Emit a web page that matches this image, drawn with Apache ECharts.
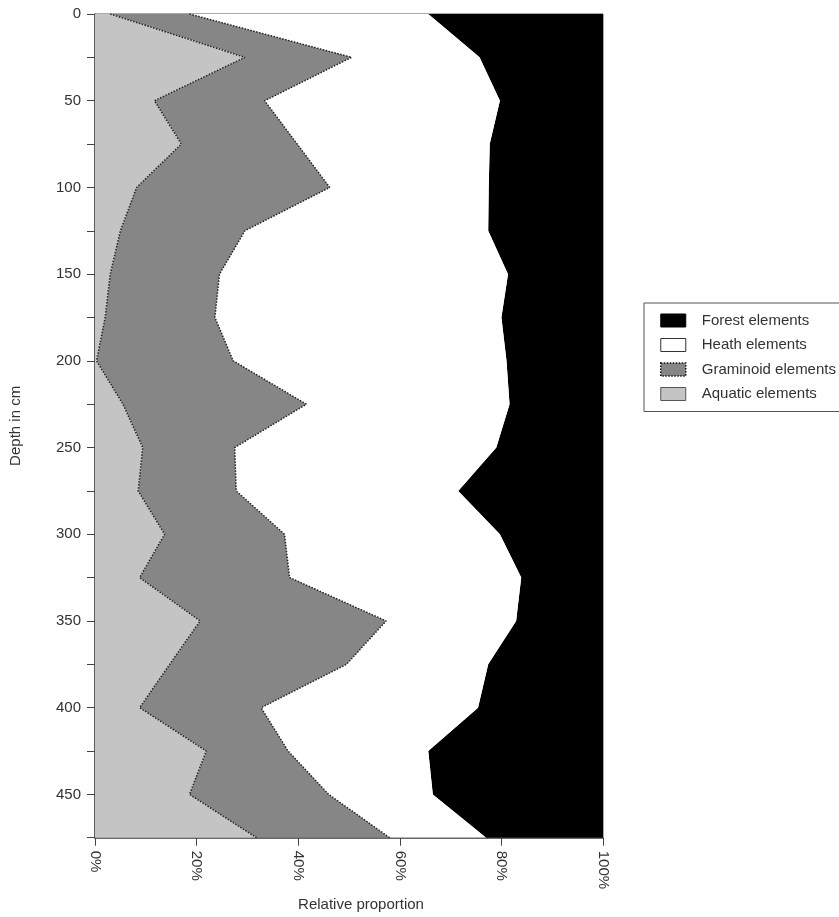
<!DOCTYPE html>
<html>
<head>
<meta charset="utf-8">
<script src="https://cdn.jsdelivr.net/npm/echarts@6/dist/echarts.min.js"></script>
<style>
html,body{margin:0;padding:0;background:#fff;}
#chart{width:839px;height:917px;}
</style>
</head>
<body>
<div id="chart"></div>
<script>
// Depth samples (cm)
const depths = ['0','25','50','75','100','125','150','175','200','225','250','275','300','325','350','375','400','425','450','475'];
// Relative proportions (%) per depth
const aquatic   = [3, 29.5, 11.7, 17, 8.2, 5, 3, 2, 0.3, 5.5, 9.4, 8.5, 13.7, 8.8, 20.7, 14.7, 8.8, 21.9, 18.6, 31.8];
const graminoid = [15.6, 21, 21.7, 22.8, 38, 24.5, 21.5, 21.6, 26.9, 36.1, 18.1, 19.3, 23.6, 29.5, 36.6, 34.8, 23.9, 16.1, 27.4, 26.2];
const heath     = [47, 25.2, 46.3, 37.9, 31.3, 47.9, 56.8, 56.4, 53.8, 40, 51.5, 43.7, 42.4, 45.6, 25.6, 27.9, 42.7, 27.6, 20.5, 19];
const forest    = [34.4, 24.3, 20.3, 22.3, 22.5, 22.6, 18.7, 20, 19, 18.4, 21, 28.5, 20.3, 16.1, 17.1, 22.6, 24.6, 34.4, 33.5, 23];
const xTicks = [0, 20, 40, 60, 80, 100];
const seriesNames = ['Forest elements', 'Heath elements', 'Graminoid elements', 'Aquatic elements'];

const FONT = 'Liberation Sans, Arial, sans-serif';
const C_FOREST = '#000000', C_HEATH = '#ffffff', C_GRAM = '#868686', C_AQUA = '#c4c4c4';

const chart = echarts.init(document.getElementById('chart'), null, {renderer: 'canvas'});
chart.setOption({
  backgroundColor: '#ffffff',
  animation: false,
  grid: {left: 95, right: 236, top: 14, bottom: 72, show: true, borderColor: '#555', borderWidth: 1, backgroundColor: 'transparent'},
  legend: {
    orient: 'vertical',
    left: 644, top: 303,
    padding: [10, 12, 10, 16],
    itemWidth: 25, itemHeight: 13, itemGap: 9.5,
    borderColor: '#555', borderWidth: 1, backgroundColor: '#fff',
    icon: 'rect',
    textStyle: {fontFamily: FONT, fontSize: 15, color: '#333', padding: [0, 0, 0, 11]},
    data: [
      {name: seriesNames[0], itemStyle: {color: C_FOREST, borderColor: '#000', borderWidth: 1}},
      {name: seriesNames[1], itemStyle: {color: C_HEATH, borderColor: '#333', borderWidth: 1}},
      {name: seriesNames[2], itemStyle: {color: C_GRAM, borderColor: '#111', borderWidth: 1.5, borderType: 'dotted'}},
      {name: seriesNames[3], itemStyle: {color: C_AQUA, borderColor: '#555', borderWidth: 1}}
    ]
  },
  xAxis: {
    type: 'value', min: xTicks[0], max: xTicks[xTicks.length - 1], interval: xTicks[1] - xTicks[0],
    name: 'Relative proportion', nameLocation: 'middle', nameGap: 57,
    nameTextStyle: {fontFamily: FONT, fontSize: 15, color: '#333', padding: [0, 0, 0, 24]},
    axisLine: {show: true, lineStyle: {color: '#444', width: 1.5}},
    axisTick: {show: true, length: 8, lineStyle: {color: '#444'}},
    axisLabel: {rotate: -90, margin: 13, fontFamily: FONT, fontSize: 15, color: '#333', formatter: '{value}%'},
    splitLine: {show: false}
  },
  yAxis: {
    type: 'category', data: depths, inverse: true, boundaryGap: false,
    name: 'Depth in cm', nameLocation: 'middle', nameGap: 72,
    nameTextStyle: {fontFamily: FONT, fontSize: 15, color: '#333'},
    axisLine: {show: true, lineStyle: {color: '#444', width: 1.5}},
    axisTick: {show: true, length: 8, interval: 0, lineStyle: {color: '#444'}},
    axisLabel: {interval: 1, margin: 14, fontFamily: FONT, fontSize: 15, color: '#333'},
    splitLine: {show: false}
  },
  series: [
    {name: seriesNames[3], type: 'line', stack: 'total', data: aquatic, symbol: 'none', z: 5,
      lineStyle: {color: '#222', width: 1.5, type: 'dotted'}, itemStyle: {color: C_AQUA},
      areaStyle: {color: C_AQUA, opacity: 1}},
    {name: seriesNames[2], type: 'line', stack: 'total', data: graminoid, symbol: 'none', z: 4,
      lineStyle: {color: '#222', width: 1.5, type: 'dotted'}, itemStyle: {color: C_GRAM},
      areaStyle: {color: C_GRAM, opacity: 1}},
    {name: seriesNames[1], type: 'line', stack: 'total', data: heath, symbol: 'none', z: 3,
      lineStyle: {width: 0, color: C_HEATH}, itemStyle: {color: C_HEATH},
      areaStyle: {color: C_HEATH, opacity: 1}},
    {name: seriesNames[0], type: 'line', stack: 'total', data: forest, symbol: 'none', z: 2,
      lineStyle: {width: 0, color: C_FOREST}, itemStyle: {color: C_FOREST},
      areaStyle: {color: C_FOREST, opacity: 1}}
  ]
});
</script>
</body>
</html>
